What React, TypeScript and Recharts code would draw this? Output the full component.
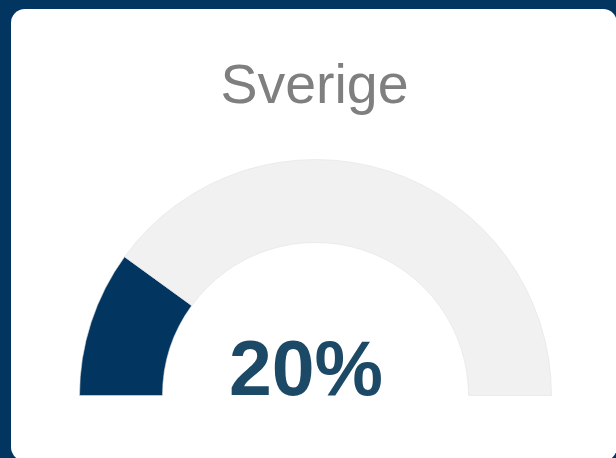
import { Cell, Pie, PieChart } from "recharts";

const TITLE = "Sverige";
const SEGMENT_NAMES = ["Andel", "Rest"];
const SEGMENT_VALUES = [20, 80];
const SEGMENT_COLORS = ["#02355f", "#f1f1f1"];

const W = 616;
const H = 458;

export default function App() {
  const data = SEGMENT_NAMES.map((name, i) => ({ name, value: SEGMENT_VALUES[i] }));
  const total = SEGMENT_VALUES.reduce((a, b) => a + b, 0);
  const pct = Math.round((SEGMENT_VALUES[0] / total) * 100);

  return (
    <div
      style={{
        position: "absolute",
        left: 0,
        top: 0,
        width: W,
        height: H,
        overflow: "hidden",
        background: "#02355f",
        fontFamily: "'Liberation Sans', Arial, sans-serif",
      }}
    >
      {/* white card, runs off the right and bottom edges */}
      <div
        style={{
          position: "absolute",
          left: 11,
          top: 9,
          width: 606,
          height: 452,
          borderRadius: 14,
          background: "#ffffff",
        }}
      />
      <div style={{ position: "absolute", left: 0, top: 0 }}>
        <PieChart width={W} height={H} margin={{ top: 0, right: 0, bottom: 0, left: 0 }}>
          <Pie
            isAnimationActive={false}
            data={data}
            dataKey="value"
            nameKey="name"
            cx={315.5}
            cy={395.5}
            innerRadius={153}
            outerRadius={236}
            startAngle={180}
            endAngle={0}
            stroke="#e2e2e2"
            strokeWidth={0.6}
          >
            {data.map((d, i) => (
              <Cell key={d.name} fill={SEGMENT_COLORS[i]} />
            ))}
          </Pie>
          <text
            x={314.5}
            y={103}
            textAnchor="middle"
            fontSize={55.5}
            fill="#7f7f7f"
            fontFamily="'Liberation Sans', Arial, sans-serif"
          >
            {TITLE}
          </text>
          <text
            x={306}
            y={395}
            textAnchor="middle"
            fontSize={77}
            fontWeight="bold"
            fill="#1c4966"
            fontFamily="'Liberation Sans', Arial, sans-serif"
          >
            {pct}%
          </text>
        </PieChart>
      </div>
    </div>
  );
}
